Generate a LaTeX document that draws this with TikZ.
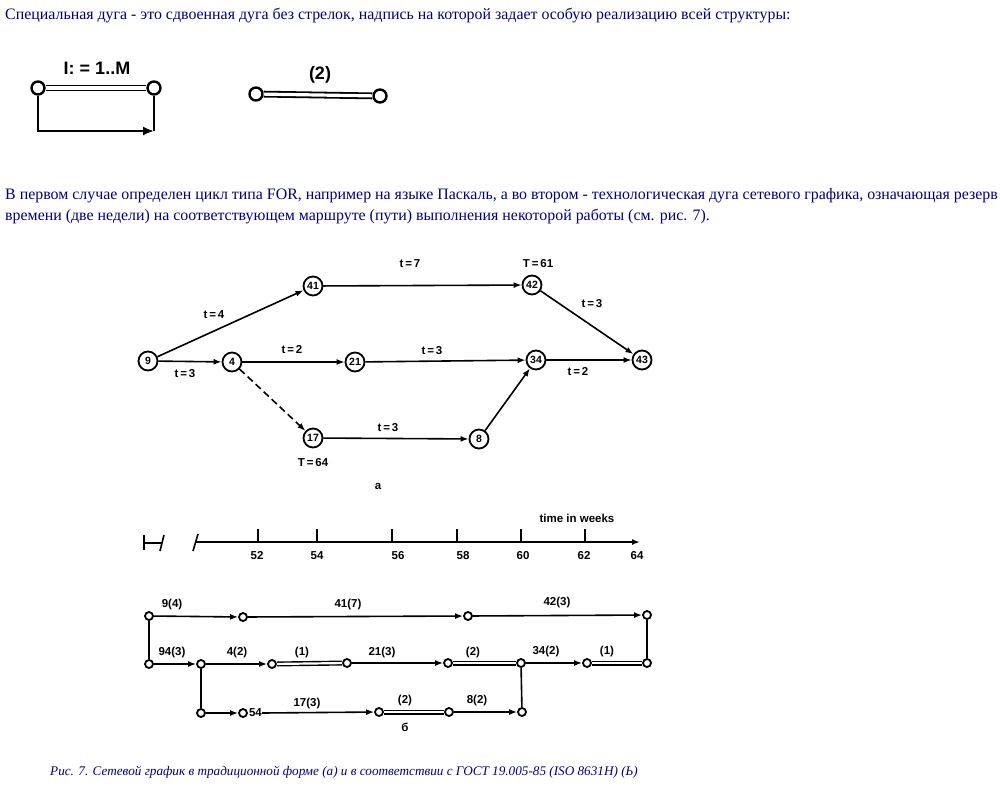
\documentclass[tikz,border=0pt]{standalone}
\usepackage{fontspec}
\setmainfont{Liberation Serif}
\newfontfamily\drawfont{Liberation Sans}
\usetikzlibrary{arrows.meta}
\definecolor{pageblue}{HTML}{000080}
\tikzset{
  page text/.style={font=\fontsize{15.9}{18}\selectfont,text=pageblue,anchor=west,inner sep=0pt},
  net node/.style={circle,draw=black,line width=1.8pt,inner sep=0pt,minimum size=19pt,font=\drawfont\bfseries\fontsize{10.5}{10.5}\selectfont},
  net label/.style={font=\drawfont\bfseries\fontsize{11.5}{11.5}\selectfont,inner sep=0pt},
  big label/.style={font=\drawfont\bfseries\fontsize{18}{18}\selectfont,inner sep=0pt},
  net arc/.style={line width=1.6pt,-{Latex[length=8pt,width=6pt]}},
  ev node/.style={circle,draw=black,line width=1.8pt,fill=white,inner sep=0pt,minimum size=8pt},
  big ev/.style={ev node,line width=2.4pt,minimum size=13pt},
  spec arc/.style={double=white,double distance=2.2pt,line width=1.4pt},
  big spec/.style={double=white,double distance=3.2pt,line width=1.8pt},
  plain arc/.style={line width=1.6pt}
}
\begin{document}
\begin{tikzpicture}[x=1pt,y=-1pt]
  \useasboundingbox (0,0) rectangle (1000,790);

  % page text
  \node[page text] (par1) at (5,16) {Специальная дуга - это сдвоенная дуга без стрелок, надпись на которой задает особую реализацию всей структуры:};
  \node[page text] (par2) at (5,196) {В первом случае определен цикл типа FOR, например на языке Паскаль, а во втором - технологическая дуга сетевого графика, означающая резерв};
  \node[page text] (par3) at (5,217) {времени (две недели) на соответствующем маршруте (пути) выполнения некоторой работы (см. рис. 7).};

  % special arcs
  \node[big ev] (la) at (38,88) {};
  \node[big ev] (lb) at (154,88) {};
  \coordinate (lc) at (154,131);
  \draw[big spec] (la) -- (lb);
  \draw[line width=2pt,-{Latex[length=11pt,width=9pt]}] (la) |- (lc);
  \draw[line width=2pt] (lb) -- (lc);
  \node[big label] (loop) at (97,68) {I:\ =\ 1..M};

  \node[big ev] (ra) at (256,94) {};
  \node[big ev] (rb) at (380,96) {};
  \draw[big spec] (ra) -- (rb);
  \node[big label] (res) at (320,75) {(2)};

  % network (a)
  \node[net node] (n9) at (148,361) {9};
  \node[net node] (n4) at (232,362) {4};
  \node[net node] (n41) at (313,286) {41};
  \node[net node] (n42) at (532,285) {42};
  \node[net node] (n21) at (355,362) {21};
  \node[net node] (n34) at (536,360) {34};
  \node[net node] (n43) at (642,360) {43};
  \node[net node] (n17) at (313,438) {17};
  \node[net node] (n8) at (479,439) {8};
  \draw[net arc] (n9) -- (n41);
  \draw[net arc] (n9) -- (n4);
  \draw[net arc] (n41) -- (n42);
  \draw[net arc] (n42) -- (n43);
  \draw[net arc] (n4) -- (n21);
  \draw[net arc] (n21) -- (n34);
  \draw[net arc] (n34) -- (n43);
  \draw[net arc,dash pattern=on 7pt off 4pt] (n4) -- (n17);
  \draw[net arc] (n17) -- (n8);
  \draw[net arc] (n8) -- (n34);
  \node[net label] (l1) at (214,315) {t\,=\,4};
  \node[net label] (l2) at (185,374) {t\,=\,3};
  \node[net label] (l3) at (292,350) {t\,=\,2};
  \node[net label] (l4) at (410,264) {t\,=\,7};
  \node[net label] (l5) at (538,264) {T\,=\,61};
  \node[net label] (l6) at (592,304) {t\,=\,3};
  \node[net label] (l7) at (432,351) {t\,=\,3};
  \node[net label] (l8) at (578,372) {t\,=\,2};
  \node[net label] (l9) at (388,428) {t\,=\,3};
  \node[net label] (l10) at (313,463) {T\,=\,64};
  \node[net label] (capa) at (378,486) {а};

  % time scale
  \coordinate (hs) at (144,543);
  \coordinate (he) at (162,543);
  \draw[plain arc] (144,535) -- (144,550);
  \draw[plain arc] (hs) -- (he);
  \draw[plain arc] (160,551) -- (164,535);
  \coordinate (ax0) at (196,542);
  \coordinate (ax1) at (640,542);
  \draw[plain arc] (193,551) -- (198,534);
  \draw[plain arc,-{Latex[length=8pt,width=6pt]}] (ax0) -- (ax1);
  \foreach \x/\lx/\w in {258/257/52,317/317/54,392/398/56,457/463/58,521/523/60,585/584/62} {
    \draw[plain arc] (\x,529) -- (\x,542);
    \node[net label] at (\lx,556) {\w};
  }
  \node[net label] (w64) at (637,556) {64};
  \node[net label] (unit) at (577,518) {time in weeks};

  % network (b)
  \node[ev node] (t1) at (149,616) {};
  \node[ev node] (t2) at (243,617) {};
  \node[ev node] (t3) at (468,616) {};
  \node[ev node] (t4) at (647,615) {};
  \node[ev node] (m1) at (149,664) {};
  \node[ev node] (m2) at (201,664) {};
  \node[ev node] (m3) at (272,664) {};
  \node[ev node] (m4) at (347,663) {};
  \node[ev node] (m5) at (448,663) {};
  \node[ev node] (m6) at (521,663) {};
  \node[ev node] (m7) at (587,663) {};
  \node[ev node] (m8) at (647,663) {};
  \node[ev node] (b1) at (201,713) {};
  \node[ev node] (b2) at (243,713) {};
  \node[ev node] (b3) at (379,712) {};
  \node[ev node] (b4) at (449,712) {};
  \node[ev node] (b5) at (522,712) {};
  \node[net label,anchor=west,xshift=1pt] (e11) at (b2.east) {54};

  \draw[net arc] (t1) -- (t2);
  \draw[net arc] (t2) -- (t3);
  \draw[net arc] (t3) -- (t4);
  \draw[plain arc] (t1) -- (m1);
  \draw[plain arc] (t4) -- (m8);
  \draw[net arc] (m1) -- (m2);
  \draw[net arc] (m2) -- (m3);
  \draw[spec arc] (m3) -- (m4);
  \draw[net arc] (m4) -- (m5);
  \draw[spec arc] (m5) -- (m6);
  \draw[net arc] (m6) -- (m7);
  \draw[spec arc] (m7) -- (m8);
  \draw[plain arc] (m2) -- (b1);
  \draw[net arc] (b1) -- (b2);
  \draw[net arc] (e11.east) -- (b3);
  \draw[spec arc] (b3) -- (b4);
  \draw[net arc] (b4) -- (b5);
  \draw[plain arc] (m6) -- (b5);

  \node[net label] (e1) at (172,605) {9(4)};
  \node[net label] (e2) at (348,605) {41(7)};
  \node[net label] (e3) at (557,603) {42(3)};
  \node[net label] (e4) at (172,653) {94(3)};
  \node[net label] (e5) at (237,653) {4(2)};
  \node[net label] (e6) at (302,653) {(1)};
  \node[net label] (e7) at (382,653) {21(3)};
  \node[net label] (e8) at (473,653) {(2)};
  \node[net label] (e9) at (546,652) {34(2)};
  \node[net label] (e10) at (607,652) {(1)};
  \node[net label] (e12) at (307,704) {17(3)};
  \node[net label] (e13) at (405,701) {(2)};
  \node[net label] (e14) at (477,701) {8(2)};
  \node[net label] (capb) at (405,727) {б};

  % caption
  \node[page text,font=\itshape\fontsize{13.2}{15}\selectfont] (cap) at (50,772) {Рис. 7. Сетевой график в традиционной форме (а) и в соответствии с ГОСТ 19.005-85 (ISO 8631Н) (Ь)};
\end{tikzpicture}
\end{document}
